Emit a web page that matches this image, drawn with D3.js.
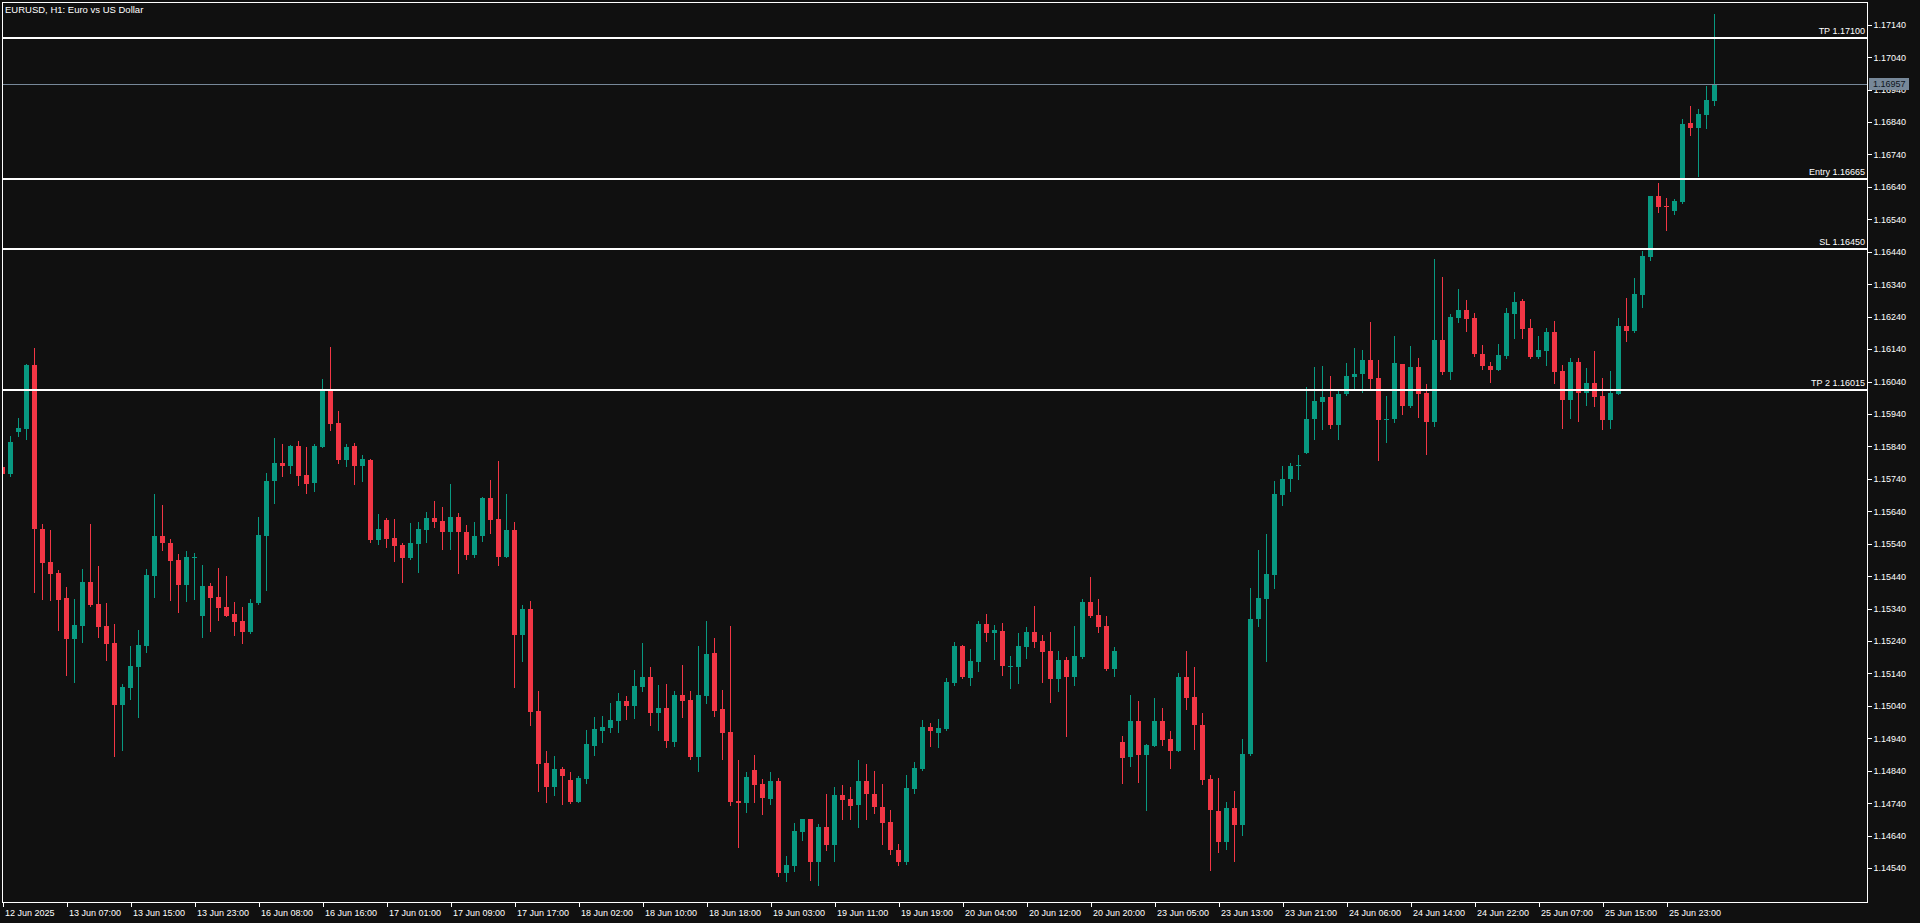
<!DOCTYPE html>
<html><head><meta charset="utf-8">
<script src="https://cdn.jsdelivr.net/npm/d3@7"></script>
<style>
html,body{margin:0;padding:0;background:#101010;overflow:hidden}
text{font-family:"Liberation Sans",Arial,sans-serif;}
</style>
</head><body>
<svg id="c" width="1920" height="923"></svg>
<script>
// ---- DATA (EURUSD H1) ----
const opens=[1.15777,1.15756,1.15885,1.15895,1.16091,1.15585,1.15484,1.15450,1.15373,1.15247,
1.15287,1.15422,1.15354,1.15286,1.15234,1.15044,1.15096,1.15161,1.15226,1.15442,
1.15564,1.15542,1.15490,1.15413,1.15497,1.15318,1.15410,1.15376,1.15345,1.15324,
1.15302,1.15269,1.15357,1.15565,1.15732,1.15789,1.15781,1.15841,1.15752,1.15728,
1.15839,1.16011,1.15912,1.15799,1.15841,1.15780,1.15798,1.15552,1.15613,1.15557,
1.15536,1.15497,1.15540,1.15583,1.15619,1.15610,1.15577,1.15622,1.15576,1.15506,
1.15565,1.15681,1.15616,1.15500,1.15582,1.15260,1.15339,1.15024,1.14864,1.14791,
1.14846,1.14812,1.14745,1.14816,1.14917,1.14964,1.14972,1.14993,1.15055,1.15040,
1.15098,1.15129,1.15019,1.15034,1.14930,1.15074,1.15058,1.14884,1.15072,1.15203,
1.15030,1.14960,1.14747,1.14742,1.14842,1.14799,1.14754,1.14809,1.14526,1.14548,
1.14652,1.14691,1.14560,1.14667,1.14612,1.14765,1.14753,1.14733,1.14809,1.14769,
1.14729,1.14682,1.14596,1.14560,1.14784,1.14846,1.14975,1.14957,1.14969,1.15111,
1.15225,1.15126,1.15176,1.15293,1.15265,1.15271,1.15161,1.15160,1.15222,1.15268,
1.15240,1.15210,1.15123,1.15182,1.15129,1.15191,1.15361,1.15321,1.15287,1.15154,
1.14929,1.14883,1.14994,1.14889,1.14917,1.14994,1.14938,1.14901,1.15129,1.15068,
1.14981,1.14815,1.14717,1.14622,1.14726,1.14672,1.14891,1.15307,1.15371,1.15445,
1.15689,1.15738,1.15782,1.15821,1.15925,1.15978,1.15993,1.15907,1.16000,1.16055,
1.16062,1.16107,1.16051,1.15920,1.15923,1.16094,1.15966,1.16085,1.16006,1.15916,
1.16168,1.16068,1.16237,1.16261,1.16236,1.16125,1.16088,1.16077,1.16120,1.16249,
1.16288,1.16205,1.16116,1.16134,1.16193,1.16072,1.15983,1.16100,1.16005,1.16035,
1.15995,1.15921,1.16002,1.16211,1.16196,1.16307,1.16424,1.16612,1.16581,1.16566,
1.16593,1.16837,1.16821,1.16862,1.16905];
const highs=[1.15782,1.15871,1.15928,1.16094,1.16143,1.15601,1.15582,1.15459,1.15407,1.15370,
1.15462,1.15601,1.15471,1.15357,1.15293,1.15108,1.15225,1.15274,1.15462,1.15693,
1.15659,1.15555,1.15509,1.15518,1.15512,1.15475,1.15419,1.15465,1.15441,1.15361,
1.15345,1.15370,1.15623,1.15758,1.15866,1.15848,1.15844,1.15857,1.15838,1.15848,
1.16048,1.16147,1.15949,1.15846,1.15850,1.15813,1.15801,1.15631,1.15619,1.15616,
1.15542,1.15604,1.15607,1.15638,1.15671,1.15653,1.15724,1.15634,1.15597,1.15607,
1.15684,1.15736,1.15795,1.15693,1.15607,1.15350,1.15362,1.15086,1.14901,1.14886,
1.14852,1.14836,1.14824,1.14966,1.15006,1.15009,1.15049,1.15080,1.15071,1.15151,
1.15234,1.15160,1.15104,1.15108,1.15086,1.15166,1.15086,1.15225,1.15302,1.15249,
1.15089,1.15286,1.14873,1.14836,1.14889,1.14815,1.14836,1.14818,1.14577,1.14679,
1.14692,1.14692,1.14676,1.14768,1.14790,1.14796,1.14790,1.14874,1.14861,1.14840,
1.14800,1.14719,1.14615,1.14827,1.14867,1.14997,1.14988,1.15000,1.15126,1.15237,
1.15228,1.15216,1.15302,1.15324,1.15290,1.15296,1.15194,1.15265,1.15284,1.15348,
1.15259,1.15268,1.15210,1.15191,1.15287,1.15370,1.15438,1.15370,1.15317,1.15222,
1.14948,1.15074,1.15055,1.14923,1.15065,1.15034,1.14963,1.15142,1.15210,1.15160,
1.15019,1.14828,1.14819,1.14744,1.14778,1.14938,1.15404,1.15522,1.15570,1.15734,
1.15781,1.15790,1.15815,1.16024,1.16086,1.16088,1.16058,1.16010,1.16097,1.16143,
1.16138,1.16224,1.16107,1.15996,1.16181,1.16095,1.16150,1.16113,1.16033,1.16418,
1.16362,1.16248,1.16325,1.16292,1.16251,1.16153,1.16100,1.16156,1.16267,1.16316,
1.16295,1.16233,1.16180,1.16205,1.16227,1.16091,1.16113,1.16113,1.16082,1.16134,
1.16051,1.16072,1.16236,1.16297,1.16359,1.16442,1.16613,1.16652,1.16606,1.16603,
1.16849,1.16889,1.16880,1.16951,1.17173];
const lows=[1.15753,1.15750,1.15873,1.15864,1.15392,1.15371,1.15368,1.15275,1.15136,1.15115,
1.15238,1.15349,1.15251,1.15183,1.14887,1.14905,1.15062,1.15007,1.15207,1.15377,
1.15522,1.15368,1.15331,1.15364,1.15371,1.15251,1.15271,1.15306,1.15316,1.15260,
1.15235,1.15266,1.15355,1.15396,1.15667,1.15750,1.15759,1.15722,1.15695,1.15704,
1.15838,1.15892,1.15790,1.15780,1.15725,1.15734,1.15546,1.15540,1.15531,1.15488,
1.15423,1.15494,1.15454,1.15546,1.15592,1.15524,1.15524,1.15451,1.15494,1.15500,
1.15549,1.15574,1.15475,1.15499,1.15099,1.15179,1.14982,1.14779,1.14745,1.14766,
1.14739,1.14742,1.14744,1.14803,1.14890,1.14930,1.14961,1.14960,1.15000,1.15003,
1.15086,1.14981,1.14966,1.14914,1.14917,1.15007,1.14877,1.14840,1.15050,1.15010,
1.14877,1.14736,1.14606,1.14714,1.14745,1.14708,1.14739,1.14517,1.14501,1.14532,
1.14628,1.14504,1.14488,1.14597,1.14563,1.14692,1.14692,1.14668,1.14690,1.14711,
1.14613,1.14582,1.14550,1.14552,1.14770,1.14841,1.14917,1.14914,1.14966,1.15105,
1.15126,1.15105,1.15148,1.15240,1.15185,1.15136,1.15095,1.15111,1.15188,1.15222,
1.15114,1.15052,1.15086,1.14948,1.15105,1.15188,1.15314,1.15268,1.15151,1.15132,
1.14803,1.14855,1.14806,1.14719,1.14916,1.14920,1.14849,1.14900,1.15031,1.14907,
1.14799,1.14533,1.14591,1.14600,1.14563,1.14643,1.14890,1.15286,1.15177,1.15405,
1.15659,1.15704,1.15741,1.15820,1.15864,1.15894,1.15898,1.15864,1.15999,1.16020,
1.16009,1.16017,1.15799,1.15855,1.15916,1.15941,1.15963,1.15932,1.15818,1.15904,
1.16064,1.16049,1.16225,1.16197,1.16120,1.16080,1.16040,1.16074,1.16111,1.16175,
1.16175,1.16111,1.16113,1.16091,1.16035,1.15897,1.15928,1.15918,1.15968,1.15965,
1.15894,1.15897,1.16000,1.16165,1.16193,1.16270,1.16415,1.16563,1.16507,1.16556,
1.16590,1.16800,1.16674,1.16821,1.16892];
const closes=[1.15756,1.15854,1.15897,1.16091,1.15586,1.15482,1.15448,1.15368,1.15247,1.15290,
1.15422,1.15351,1.15284,1.15232,1.15044,1.15098,1.15163,1.15228,1.15444,1.15564,
1.15543,1.15488,1.15413,1.15499,1.15499,1.15410,1.15374,1.15343,1.15318,1.15300,
1.15269,1.15357,1.15567,1.15734,1.15789,1.15781,1.15841,1.15750,1.15725,1.15841,
1.16011,1.15910,1.15799,1.15838,1.15780,1.15801,1.15552,1.15585,1.15555,1.15534,
1.15497,1.15542,1.15585,1.15619,1.15607,1.15577,1.15622,1.15577,1.15506,1.15564,
1.15681,1.15614,1.15500,1.15582,1.15259,1.15339,1.15022,1.14862,1.14791,1.14846,
1.14825,1.14745,1.14818,1.14923,1.14969,1.14975,1.14997,1.15055,1.15040,1.15101,
1.15129,1.15019,1.15034,1.14933,1.15074,1.15056,1.14884,1.15074,1.15200,1.15025,
1.14958,1.14745,1.14742,1.14821,1.14797,1.14757,1.14809,1.14526,1.14550,1.14654,
1.14691,1.14560,1.14667,1.14612,1.14765,1.14751,1.14732,1.14809,1.14767,1.14727,
1.14680,1.14597,1.14560,1.14787,1.14849,1.14975,1.14963,1.14972,1.15114,1.15225,
1.15129,1.15179,1.15293,1.15265,1.15274,1.15163,1.15163,1.15225,1.15268,1.15237,
1.15206,1.15123,1.15182,1.15129,1.15194,1.15361,1.15317,1.15284,1.15154,1.15210,
1.14880,1.14994,1.14889,1.14920,1.14994,1.14935,1.14901,1.15129,1.15065,1.14981,
1.14813,1.14718,1.14622,1.14726,1.14672,1.14892,1.15308,1.15374,1.15447,1.15694,
1.15740,1.15781,1.15783,1.15925,1.15981,1.15993,1.15907,1.16002,1.16058,1.16063,
1.16107,1.16049,1.15920,1.15926,1.16097,1.15966,1.16085,1.16003,1.15916,1.16168,
1.16068,1.16239,1.16261,1.16234,1.16126,1.16089,1.16077,1.16122,1.16251,1.16285,
1.16203,1.16117,1.16137,1.16193,1.16069,1.15983,1.16100,1.16005,1.16035,1.15992,
1.15921,1.16005,1.16211,1.16196,1.16310,1.16427,1.16612,1.16578,1.16579,1.16596,
1.16834,1.16821,1.16865,1.16908,1.16957];

const timeLabels=["12 Jun 2025","13 Jun 07:00","13 Jun 15:00","13 Jun 23:00","16 Jun 08:00","16 Jun 16:00",
"17 Jun 01:00","17 Jun 09:00","17 Jun 17:00","18 Jun 02:00","18 Jun 10:00","18 Jun 18:00","19 Jun 03:00",
"19 Jun 11:00","19 Jun 19:00","20 Jun 04:00","20 Jun 12:00","20 Jun 20:00","23 Jun 05:00","23 Jun 13:00",
"23 Jun 21:00","24 Jun 06:00","24 Jun 14:00","24 Jun 22:00","25 Jun 07:00","25 Jun 15:00","25 Jun 23:00"];
const timeLabelStep=8;

const priceTicks=[1.14540,1.14640,1.14740,1.14840,1.14940,1.15040,1.15140,1.15240,1.15340,1.15440,
1.15540,1.15640,1.15740,1.15840,1.15940,1.16040,1.16140,1.16240,1.16340,1.16440,1.16540,1.16640,
1.16740,1.16840,1.16940,1.17040,1.17140];

const levelNames=["TP","Entry","SL","TP 2"];
const levelValues=[1.17100,1.16665,1.16450,1.16015];
const currentPrice=1.16957;
const title="EURUSD, H1:  Euro vs US Dollar";

// ---- DRAW ----
const W=1920,H=923;
const frame={l:2,t:2,r:1867,b:902};
const N=opens.length;
const GREEN="#089981",RED="#f23645";

const svg=d3.select("#c");
svg.append("rect").attr("width",W).attr("height",H).attr("fill","#101010");

const x=d3.scaleLinear().domain([0,N-1]).range([2.5,2.5+8*(N-1)]);
const y=d3.scaleLinear().domain([1.14540,1.17140]).range([868.1,24.7]);

svg.append("clipPath").attr("id","clip").append("rect")
  .attr("x",frame.l+1).attr("y",frame.t+1).attr("width",frame.r-frame.l-1).attr("height",frame.b-frame.t-1);

const plot=svg.append("g").attr("clip-path","url(#clip)");

const data=d3.range(N).map(i=>({i,o:opens[i],h:highs[i],l:lows[i],c:closes[i]}));
const cg=plot.append("g").attr("shape-rendering","crispEdges");
const col=d=>d.c>=d.o?GREEN:RED;

cg.selectAll("line.w").data(data).join("line").attr("class","w")
  .attr("x1",d=>x(d.i)).attr("x2",d=>x(d.i))
  .attr("y1",d=>Math.round(y(d.h))).attr("y2",d=>Math.round(y(d.l))+1)
  .attr("stroke",col).attr("stroke-width",1);

cg.selectAll("rect.b").data(data).join("rect").attr("class","b")
  .attr("x",d=>x(d.i)-2.5).attr("width",5)
  .attr("y",d=>Math.round(y(Math.max(d.o,d.c))))
  .attr("height",d=>Math.max(1,Math.round(y(Math.min(d.o,d.c)))-Math.round(y(Math.max(d.o,d.c)))))
  .attr("fill",col);

// current price line
plot.append("line").attr("x1",frame.l).attr("x2",frame.r)
  .attr("y1",Math.round(y(currentPrice))+0.5).attr("y2",Math.round(y(currentPrice))+0.5)
  .attr("stroke","#778899").attr("stroke-width",1);

// level lines
const lv=levelNames.map((n,k)=>({name:n,v:levelValues[k]}));
plot.selectAll("line.lv").data(lv).join("line").attr("class","lv")
  .attr("x1",frame.l).attr("x2",frame.r)
  .attr("y1",d=>Math.round(y(d.v))).attr("y2",d=>Math.round(y(d.v)))
  .attr("stroke","#ffffff").attr("stroke-width",2).attr("shape-rendering","crispEdges");
svg.selectAll("text.lv").data(lv).join("text").attr("class","lv")
  .attr("x",frame.r-2).attr("y",d=>Math.round(y(d.v))-4)
  .attr("text-anchor","end").attr("fill","#ffffff").attr("font-size","9px")
  .text(d=>d.name+" "+d3.format(".5f")(d.v));

// frame
svg.append("rect").attr("x",frame.l+0.5).attr("y",frame.t+0.5)
  .attr("width",frame.r-frame.l).attr("height",frame.b-frame.t)
  .attr("fill","none").attr("stroke","#ffffff").attr("stroke-width",1);

// right axis
const yAxis=d3.axisRight(y).tickValues(priceTicks).tickSize(4).tickPadding(2).tickFormat(d3.format(".5f"));
const ya=svg.append("g").attr("transform",`translate(${frame.r+0.5},0)`).call(yAxis);
ya.select(".domain").remove();
ya.selectAll("line").attr("stroke","#ffffff").attr("shape-rendering","crispEdges");
ya.selectAll("text").attr("fill","#ffffff").attr("font-size","9px").attr("font-family","Liberation Sans, Arial, sans-serif");

// current price label
const cpY=y(currentPrice);
svg.append("rect").attr("x",1869).attr("y",Math.round(cpY)-6).attr("width",40).attr("height",12).attr("fill","#778899");
svg.append("text").attr("x",1873).attr("y",cpY).attr("dy","0.35em").attr("fill","#0d1520")
  .attr("font-size","9px").text(d3.format(".5f")(currentPrice));

// bottom axis
const tickIdx=timeLabels.map((t,k)=>k*timeLabelStep);
const xAxis=d3.axisBottom(x).tickValues(tickIdx).tickSize(4).tickPadding(3).tickFormat((d,k)=>timeLabels[k]);
const xa=svg.append("g").attr("transform",`translate(0,${frame.b+0.5})`).call(xAxis);
xa.select(".domain").remove();
xa.selectAll("line").attr("stroke","#ffffff").attr("shape-rendering","crispEdges");
xa.selectAll("text").attr("fill","#ffffff").attr("font-size","9px").attr("text-anchor","start").attr("x",2)
  .attr("font-family","Liberation Sans, Arial, sans-serif");

// title
svg.append("text").attr("x",5).attr("y",13).attr("fill","#ffffff").attr("font-size","9.5px").text(title);
</script>
</body></html>
